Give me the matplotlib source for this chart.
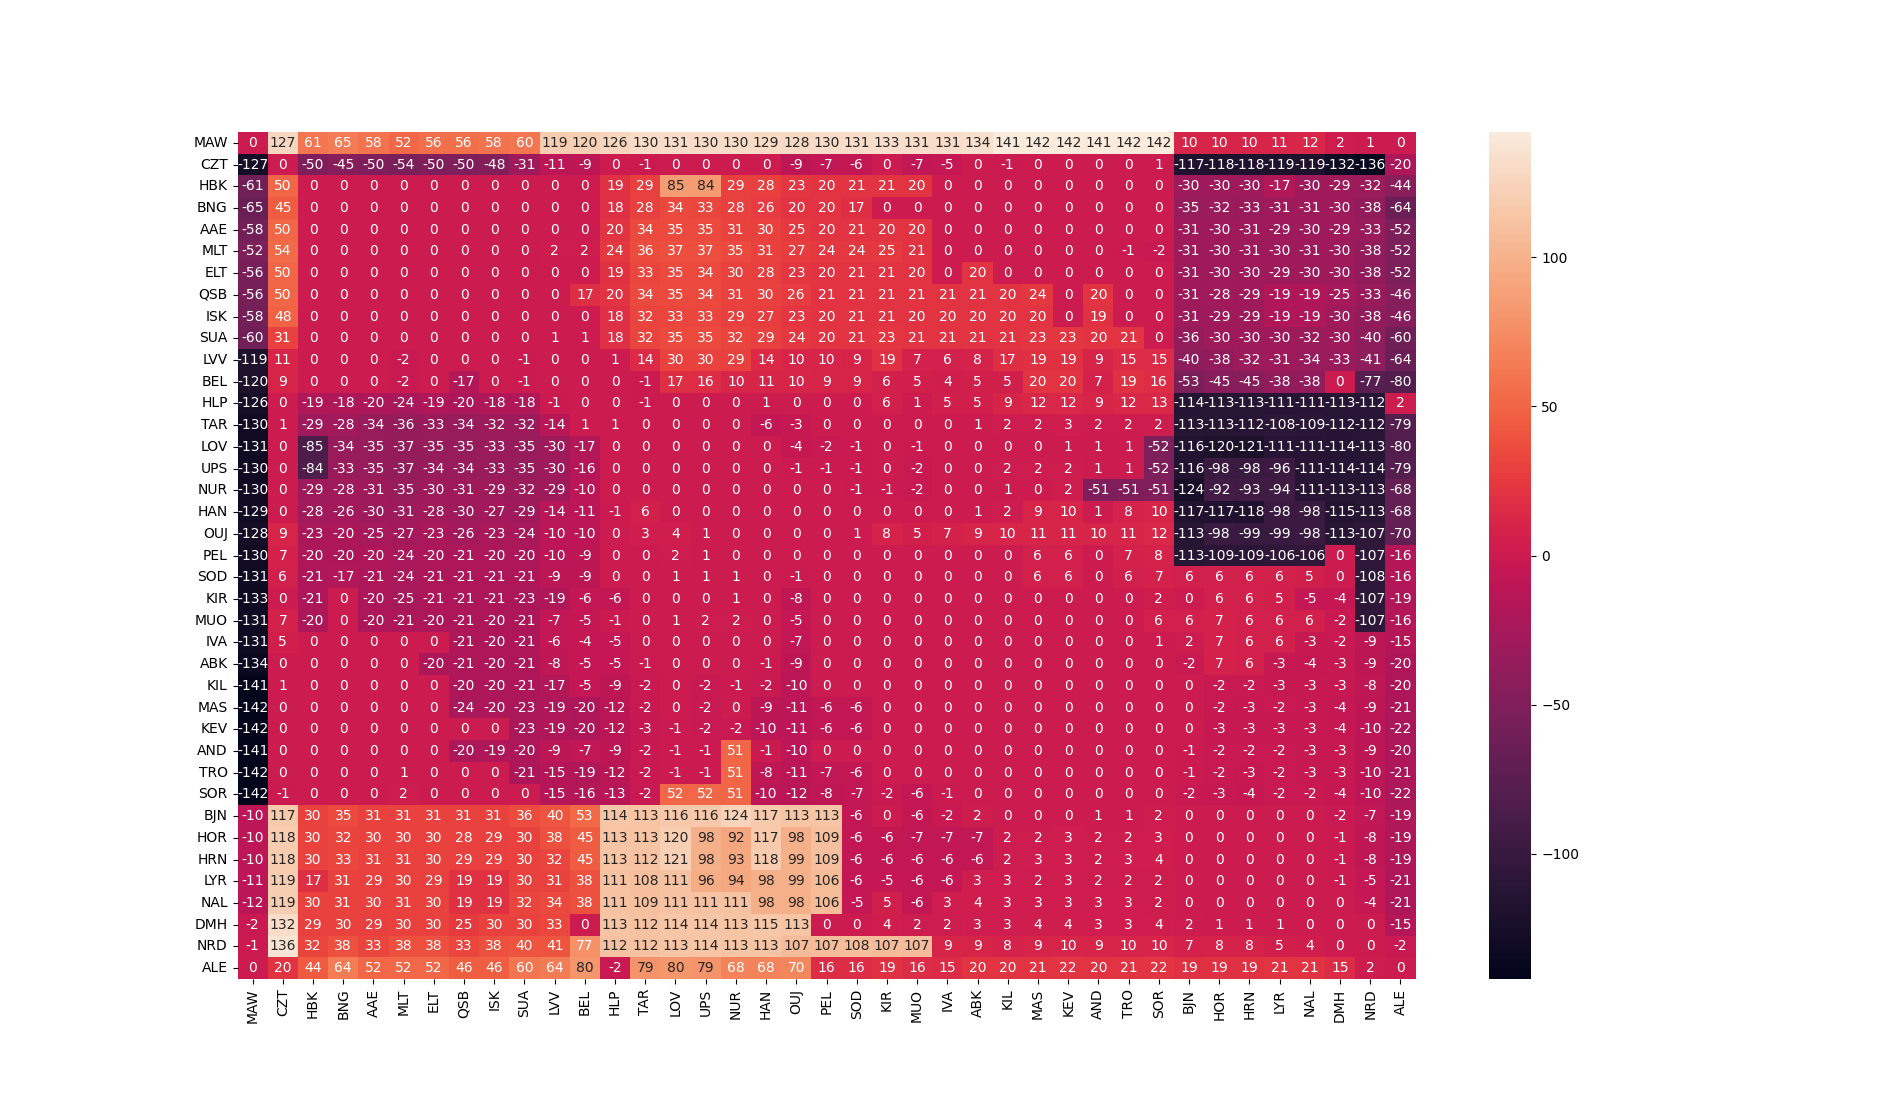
import numpy as np
import pandas as pd
import matplotlib
matplotlib.use('Agg')
import matplotlib.pyplot as plt
import seaborn as sns

# station codes (rows and columns share the same order)
stations = ['MAW', 'CZT', 'HBK', 'BNG', 'AAE', 'MLT', 'ELT', 'QSB', 'ISK', 'SUA',
            'LVV', 'BEL', 'HLP', 'TAR', 'LOV', 'UPS', 'NUR', 'HAN', 'OUJ', 'PEL',
            'SOD', 'KIR', 'MUO', 'IVA', 'ABK', 'KIL', 'MAS', 'KEV', 'AND', 'TRO',
            'SOR', 'BJN', 'HOR', 'HRN', 'LYR', 'NAL', 'DMH', 'NRD', 'ALE']

# one list per row
MAW = [0, 127, 61, 65, 58, 52, 56, 56, 58, 60, 119, 120, 126, 130, 131, 130, 130, 129, 128, 130,
       131, 133, 131, 131, 134, 141, 142, 142, 141, 142, 142, 10, 10, 10, 11, 12, 2, 1, 0]
CZT = [-127, 0, -50, -45, -50, -54, -50, -50, -48, -31, -11, -9, 0, -1, 0, 0, 0, 0, -9, -7,
       -6, 0, -7, -5, 0, -1, 0, 0, 0, 0, 1, -117, -118, -118, -119, -119, -132, -136, -20]
HBK = [-61, 50, 0, 0, 0, 0, 0, 0, 0, 0, 0, 0, 19, 29, 85, 84, 29, 28, 23, 20,
       21, 21, 20, 0, 0, 0, 0, 0, 0, 0, 0, -30, -30, -30, -17, -30, -29, -32, -44]
BNG = [-65, 45, 0, 0, 0, 0, 0, 0, 0, 0, 0, 0, 18, 28, 34, 33, 28, 26, 20, 20,
       17, 0, 0, 0, 0, 0, 0, 0, 0, 0, 0, -35, -32, -33, -31, -31, -30, -38, -64]
AAE = [-58, 50, 0, 0, 0, 0, 0, 0, 0, 0, 0, 0, 20, 34, 35, 35, 31, 30, 25, 20,
       21, 20, 20, 0, 0, 0, 0, 0, 0, 0, 0, -31, -30, -31, -29, -30, -29, -33, -52]
MLT = [-52, 54, 0, 0, 0, 0, 0, 0, 0, 0, 2, 2, 24, 36, 37, 37, 35, 31, 27, 24,
       24, 25, 21, 0, 0, 0, 0, 0, 0, -1, -2, -31, -30, -31, -30, -31, -30, -38, -52]
ELT = [-56, 50, 0, 0, 0, 0, 0, 0, 0, 0, 0, 0, 19, 33, 35, 34, 30, 28, 23, 20,
       21, 21, 20, 0, 20, 0, 0, 0, 0, 0, 0, -31, -30, -30, -29, -30, -30, -38, -52]
QSB = [-56, 50, 0, 0, 0, 0, 0, 0, 0, 0, 0, 17, 20, 34, 35, 34, 31, 30, 26, 21,
       21, 21, 21, 21, 21, 20, 24, 0, 20, 0, 0, -31, -28, -29, -19, -19, -25, -33, -46]
ISK = [-58, 48, 0, 0, 0, 0, 0, 0, 0, 0, 0, 0, 18, 32, 33, 33, 29, 27, 23, 20,
       21, 21, 20, 20, 20, 20, 20, 0, 19, 0, 0, -31, -29, -29, -19, -19, -30, -38, -46]
SUA = [-60, 31, 0, 0, 0, 0, 0, 0, 0, 0, 1, 1, 18, 32, 35, 35, 32, 29, 24, 20,
       21, 23, 21, 21, 21, 21, 23, 23, 20, 21, 0, -36, -30, -30, -30, -32, -30, -40, -60]
LVV = [-119, 11, 0, 0, 0, -2, 0, 0, 0, -1, 0, 0, 1, 14, 30, 30, 29, 14, 10, 10,
       9, 19, 7, 6, 8, 17, 19, 19, 9, 15, 15, -40, -38, -32, -31, -34, -33, -41, -64]
BEL = [-120, 9, 0, 0, 0, -2, 0, -17, 0, -1, 0, 0, 0, -1, 17, 16, 10, 11, 10, 9,
       9, 6, 5, 4, 5, 5, 20, 20, 7, 19, 16, -53, -45, -45, -38, -38, 0, -77, -80]
HLP = [-126, 0, -19, -18, -20, -24, -19, -20, -18, -18, -1, 0, 0, -1, 0, 0, 0, 1, 0, 0,
       0, 6, 1, 5, 5, 9, 12, 12, 9, 12, 13, -114, -113, -113, -111, -111, -113, -112, 2]
TAR = [-130, 1, -29, -28, -34, -36, -33, -34, -32, -32, -14, 1, 1, 0, 0, 0, 0, -6, -3, 0,
       0, 0, 0, 0, 1, 2, 2, 3, 2, 2, 2, -113, -113, -112, -108, -109, -112, -112, -79]
LOV = [-131, 0, -85, -34, -35, -37, -35, -35, -33, -35, -30, -17, 0, 0, 0, 0, 0, 0, -4, -2,
       -1, 0, -1, 0, 0, 0, 0, 1, 1, 1, -52, -116, -120, -121, -111, -111, -114, -113, -80]
UPS = [-130, 0, -84, -33, -35, -37, -34, -34, -33, -35, -30, -16, 0, 0, 0, 0, 0, 0, -1, -1,
       -1, 0, -2, 0, 0, 2, 2, 2, 1, 1, -52, -116, -98, -98, -96, -111, -114, -114, -79]
NUR = [-130, 0, -29, -28, -31, -35, -30, -31, -29, -32, -29, -10, 0, 0, 0, 0, 0, 0, 0, 0,
       -1, -1, -2, 0, 0, 1, 0, 2, -51, -51, -51, -124, -92, -93, -94, -111, -113, -113, -68]
HAN = [-129, 0, -28, -26, -30, -31, -28, -30, -27, -29, -14, -11, -1, 6, 0, 0, 0, 0, 0, 0,
       0, 0, 0, 0, 1, 2, 9, 10, 1, 8, 10, -117, -117, -118, -98, -98, -115, -113, -68]
OUJ = [-128, 9, -23, -20, -25, -27, -23, -26, -23, -24, -10, -10, 0, 3, 4, 1, 0, 0, 0, 0,
       1, 8, 5, 7, 9, 10, 11, 11, 10, 11, 12, -113, -98, -99, -99, -98, -113, -107, -70]
PEL = [-130, 7, -20, -20, -20, -24, -20, -21, -20, -20, -10, -9, 0, 0, 2, 1, 0, 0, 0, 0,
       0, 0, 0, 0, 0, 0, 6, 6, 0, 7, 8, -113, -109, -109, -106, -106, 0, -107, -16]
SOD = [-131, 6, -21, -17, -21, -24, -21, -21, -21, -21, -9, -9, 0, 0, 1, 1, 1, 0, -1, 0,
       0, 0, 0, 0, 0, 0, 6, 6, 0, 6, 7, 6, 6, 6, 6, 5, 0, -108, -16]
KIR = [-133, 0, -21, 0, -20, -25, -21, -21, -21, -23, -19, -6, -6, 0, 0, 0, 1, 0, -8, 0,
       0, 0, 0, 0, 0, 0, 0, 0, 0, 0, 2, 0, 6, 6, 5, -5, -4, -107, -19]
MUO = [-131, 7, -20, 0, -20, -21, -20, -21, -20, -21, -7, -5, -1, 0, 1, 2, 2, 0, -5, 0,
       0, 0, 0, 0, 0, 0, 0, 0, 0, 0, 6, 6, 7, 6, 6, 6, -2, -107, -16]
IVA = [-131, 5, 0, 0, 0, 0, 0, -21, -20, -21, -6, -4, -5, 0, 0, 0, 0, 0, -7, 0,
       0, 0, 0, 0, 0, 0, 0, 0, 0, 0, 1, 2, 7, 6, 6, -3, -2, -9, -15]
ABK = [-134, 0, 0, 0, 0, 0, -20, -21, -20, -21, -8, -5, -5, -1, 0, 0, 0, -1, -9, 0,
       0, 0, 0, 0, 0, 0, 0, 0, 0, 0, 0, -2, 7, 6, -3, -4, -3, -9, -20]
KIL = [-141, 1, 0, 0, 0, 0, 0, -20, -20, -21, -17, -5, -9, -2, 0, -2, -1, -2, -10, 0,
       0, 0, 0, 0, 0, 0, 0, 0, 0, 0, 0, 0, -2, -2, -3, -3, -3, -8, -20]
MAS = [-142, 0, 0, 0, 0, 0, 0, -24, -20, -23, -19, -20, -12, -2, 0, -2, 0, -9, -11, -6,
       -6, 0, 0, 0, 0, 0, 0, 0, 0, 0, 0, 0, -2, -3, -2, -3, -4, -9, -21]
KEV = [-142, 0, 0, 0, 0, 0, 0, 0, 0, -23, -19, -20, -12, -3, -1, -2, -2, -10, -11, -6,
       -6, 0, 0, 0, 0, 0, 0, 0, 0, 0, 0, 0, -3, -3, -3, -3, -4, -10, -22]
AND = [-141, 0, 0, 0, 0, 0, 0, -20, -19, -20, -9, -7, -9, -2, -1, -1, 51, -1, -10, 0,
       0, 0, 0, 0, 0, 0, 0, 0, 0, 0, 0, -1, -2, -2, -2, -3, -3, -9, -20]
TRO = [-142, 0, 0, 0, 0, 1, 0, 0, 0, -21, -15, -19, -12, -2, -1, -1, 51, -8, -11, -7,
       -6, 0, 0, 0, 0, 0, 0, 0, 0, 0, 0, -1, -2, -3, -2, -3, -3, -10, -21]
SOR = [-142, -1, 0, 0, 0, 2, 0, 0, 0, 0, -15, -16, -13, -2, 52, 52, 51, -10, -12, -8,
       -7, -2, -6, -1, 0, 0, 0, 0, 0, 0, 0, -2, -3, -4, -2, -2, -4, -10, -22]
BJN = [-10, 117, 30, 35, 31, 31, 31, 31, 31, 36, 40, 53, 114, 113, 116, 116, 124, 117, 113, 113,
       -6, 0, -6, -2, 2, 0, 0, 0, 1, 1, 2, 0, 0, 0, 0, 0, -2, -7, -19]
HOR = [-10, 118, 30, 32, 30, 30, 30, 28, 29, 30, 38, 45, 113, 113, 120, 98, 92, 117, 98, 109,
       -6, -6, -7, -7, -7, 2, 2, 3, 2, 2, 3, 0, 0, 0, 0, 0, -1, -8, -19]
HRN = [-10, 118, 30, 33, 31, 31, 30, 29, 29, 30, 32, 45, 113, 112, 121, 98, 93, 118, 99, 109,
       -6, -6, -6, -6, -6, 2, 3, 3, 2, 3, 4, 0, 0, 0, 0, 0, -1, -8, -19]
LYR = [-11, 119, 17, 31, 29, 30, 29, 19, 19, 30, 31, 38, 111, 108, 111, 96, 94, 98, 99, 106,
       -6, -5, -6, -6, 3, 3, 2, 3, 2, 2, 2, 0, 0, 0, 0, 0, -1, -5, -21]
NAL = [-12, 119, 30, 31, 30, 31, 30, 19, 19, 32, 34, 38, 111, 109, 111, 111, 111, 98, 98, 106,
       -5, 5, -6, 3, 4, 3, 3, 3, 3, 3, 2, 0, 0, 0, 0, 0, 0, -4, -21]
DMH = [-2, 132, 29, 30, 29, 30, 30, 25, 30, 30, 33, 0, 113, 112, 114, 114, 113, 115, 113, 0,
       0, 4, 2, 2, 3, 3, 4, 4, 3, 3, 4, 2, 1, 1, 1, 0, 0, 0, -15]
NRD = [-1, 136, 32, 38, 33, 38, 38, 33, 38, 40, 41, 77, 112, 112, 113, 114, 113, 113, 107, 107,
       108, 107, 107, 9, 9, 8, 9, 10, 9, 10, 10, 7, 8, 8, 5, 4, 0, 0, -2]
ALE = [0, 20, 44, 64, 52, 52, 52, 46, 46, 60, 64, 80, -2, 79, 80, 79, 68, 68, 70, 16,
       16, 19, 16, 15, 20, 20, 21, 22, 20, 21, 22, 19, 19, 19, 21, 21, 15, 2, 0]

rows = [MAW, CZT, HBK, BNG, AAE, MLT, ELT, QSB, ISK, SUA, LVV, BEL, HLP, TAR, LOV, UPS,
        NUR, HAN, OUJ, PEL, SOD, KIR, MUO, IVA, ABK, KIL, MAS, KEV, AND, TRO, SOR,
        BJN, HOR, HRN, LYR, NAL, DMH, NRD, ALE]

df = pd.DataFrame(rows, index=stations, columns=stations)

fig = plt.figure(figsize=(19, 11), dpi=100)
ax = sns.heatmap(df, annot=True, fmt='d', xticklabels=True, yticklabels=True)
plt.savefig('out.png', dpi=100)
